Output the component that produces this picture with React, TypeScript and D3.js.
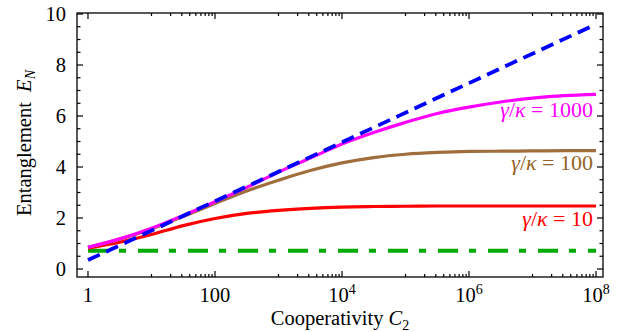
import { useEffect, useRef } from 'react';
import * as d3 from 'd3';

// cooperativity grid (half decades)
const coop = [1, 3.16, 10, 31.6, 100, 316, 1e3, 3.16e3, 1e4, 3.16e4, 1e5, 3.16e5, 1e6, 3.16e6, 1e7, 3.16e7, 1e8];
const ratio1000 = [0.85, 1.18, 1.6, 2.1, 2.64, 3.2, 3.8, 4.35, 4.9, 5.35, 5.75, 6.1, 6.35, 6.55, 6.7, 6.8, 6.85];
const ratio100 = [0.85, 1.17, 1.57, 2.06, 2.57, 3.06, 3.48, 3.86, 4.16, 4.37, 4.5, 4.57, 4.61, 4.62, 4.63, 4.64, 4.64];
const ratio10 = [0.82, 1.05, 1.35, 1.7, 1.98, 2.18, 2.3, 2.38, 2.43, 2.45, 2.46, 2.47, 2.47, 2.47, 2.47, 2.47, 2.47];
const boundCoop = [1, 100, 1e4, 1e6, 1e8];
const bound = [0.35, 2.66, 4.97, 7.29, 9.6];
const floorCoop = [1, 1e8];
const floorVals = [0.72, 0.72];

const xMajor = [1, 100, 1e4, 1e6, 1e8];
const xMajorLabels = [['1', ''], ['100', ''], ['10', '4'], ['10', '6'], ['10', '8']];
const yMajor = [0, 2, 4, 6, 8, 10];

const curveLabels = [
    { text: '1000', color: '#ff00ff', x: 1e8, y: 5.95 },
    { text: '100', color: '#946428', x: 1e8, y: 3.9 },
    { text: '10', color: '#ff0000', x: 1e8, y: 1.68 },
];

const W = 623, H = 332;
const FONT = '"Liberation Serif", "Times New Roman", serif';

const App = () => {
    const svgRef = useRef(null);

    useEffect(() => {
        const svg = d3.select(svgRef.current);
        svg.selectAll('*').remove();

        const left = 77, right = 603, top = 13, bottom = 277;
        const x = d3.scaleLog().domain([10 ** -0.173, 10 ** 8.11]).range([left, right]);
        const y = d3.scaleLinear().domain([-0.314, 10.04]).range([bottom, top]);

        const line = d3.line().x(d => x(d[0])).y(d => y(d[1])).curve(d3.curveMonotoneX);
        const pts = (xs, ys) => xs.map((c, i) => [c, ys[i]]);

        const clip = svg.append('clipPath').attr('id', 'plotclip');
        clip.append('rect').attr('x', left).attr('y', top).attr('width', right - left).attr('height', bottom - top);

        const g = svg.append('g').attr('clip-path', 'url(#plotclip)');

        g.append('path').datum(pts(floorCoop, floorVals))
            .attr('d', line).attr('fill', 'none').attr('stroke', '#00aa00')
            .attr('stroke-width', 4).attr('stroke-dasharray', '20,11,7,12');
        g.append('path').datum(pts(coop, ratio10))
            .attr('d', line).attr('fill', 'none').attr('stroke', '#ff0000').attr('stroke-width', 3.2);
        g.append('path').datum(pts(coop, ratio100))
            .attr('d', line).attr('fill', 'none').attr('stroke', '#a06e3c').attr('stroke-width', 3.2);
        g.append('path').datum(pts(coop, ratio1000))
            .attr('d', line).attr('fill', 'none').attr('stroke', '#ff00ff').attr('stroke-width', 3.2);
        g.append('path').datum(pts(boundCoop, bound))
            .attr('d', line).attr('fill', 'none').attr('stroke', '#0000ff')
            .attr('stroke-width', 3.8).attr('stroke-dasharray', '13,7');

        // frame
        svg.append('rect').attr('x', left).attr('y', top).attr('width', right - left).attr('height', bottom - top)
            .attr('fill', 'none').attr('stroke', '#000').attr('stroke-width', 1.3);

        const ticks = svg.append('g').attr('stroke', '#000').attr('stroke-width', 1.2);

        // x ticks (bottom and top, inward)
        const xMinor = [];
        for (let n = 0; n < 4; n++) {
            for (let k = 1; k <= 9; k++) xMinor.push(k * 10 * 100 ** n);
        }
        xMajor.forEach(v => {
            ticks.append('line').attr('x1', x(v)).attr('x2', x(v)).attr('y1', bottom).attr('y2', bottom - 6);
            ticks.append('line').attr('x1', x(v)).attr('x2', x(v)).attr('y1', top).attr('y2', top + 6);
        });
        xMinor.forEach(v => {
            ticks.append('line').attr('x1', x(v)).attr('x2', x(v)).attr('y1', bottom).attr('y2', bottom - 3);
            ticks.append('line').attr('x1', x(v)).attr('x2', x(v)).attr('y1', top).attr('y2', top + 3);
        });

        // y ticks (left and right, inward)
        d3.range(0, 10.01, 0.5).forEach(v => {
            const len = v % 2 === 0 ? 6 : 3.5;
            ticks.append('line').attr('x1', left).attr('x2', left + len).attr('y1', y(v)).attr('y2', y(v));
            ticks.append('line').attr('x1', right).attr('x2', right - len).attr('y1', y(v)).attr('y2', y(v));
        });

        const txt = svg.append('g').attr('font-family', FONT).attr('fill', '#000');

        yMajor.forEach(v => {
            txt.append('text').attr('x', 66).attr('y', y(v) + 7)
                .attr('text-anchor', 'end').attr('font-size', 20.5).text(v);
        });

        xMajorLabels.forEach(([base, sup], i) => {
            const t = txt.append('text').attr('x', x(xMajor[i])).attr('y', 302)
                .attr('text-anchor', 'middle').attr('font-size', 20.5);
            t.append('tspan').text(base);
            if (sup) t.append('tspan').attr('dy', -8).attr('font-size', 14).text(sup);
        });

        // axis titles
        const xt = txt.append('text').attr('x', 340).attr('y', 325).attr('text-anchor', 'middle').attr('font-size', 20.5);
        xt.append('tspan').text('Cooperativity ');
        xt.append('tspan').attr('font-style', 'italic').text('C');
        xt.append('tspan').attr('dy', 5).attr('font-size', 14).text('2');

        const yt = txt.append('text').attr('transform', 'translate(31,143) rotate(-90)')
            .attr('text-anchor', 'middle').attr('font-size', 20.5);
        yt.append('tspan').text('Entanglement\u00a0\u00a0');
        yt.append('tspan').attr('font-style', 'italic').text('E');
        yt.append('tspan').attr('dy', 4).attr('font-size', 14).attr('font-style', 'italic').text('N');

        // curve labels
        curveLabels.forEach(d => {
            const t = txt.append('text').attr('x', x(d.x) - 3).attr('y', y(d.y))
                .attr('text-anchor', 'end').attr('font-size', 22).attr('fill', d.color);
            t.append('tspan').attr('font-style', 'italic').text('γ');
            t.append('tspan').text('/');
            t.append('tspan').attr('font-style', 'italic').text('κ');
            t.append('tspan').text('\u00a0=\u00a0' + d.text);
        });
    }, []);

    return (
        <svg ref={svgRef} width={W} height={H}
            style={{ position: 'absolute', left: 0, top: 0, background: '#fff' }} />
    );
};

export default App;
